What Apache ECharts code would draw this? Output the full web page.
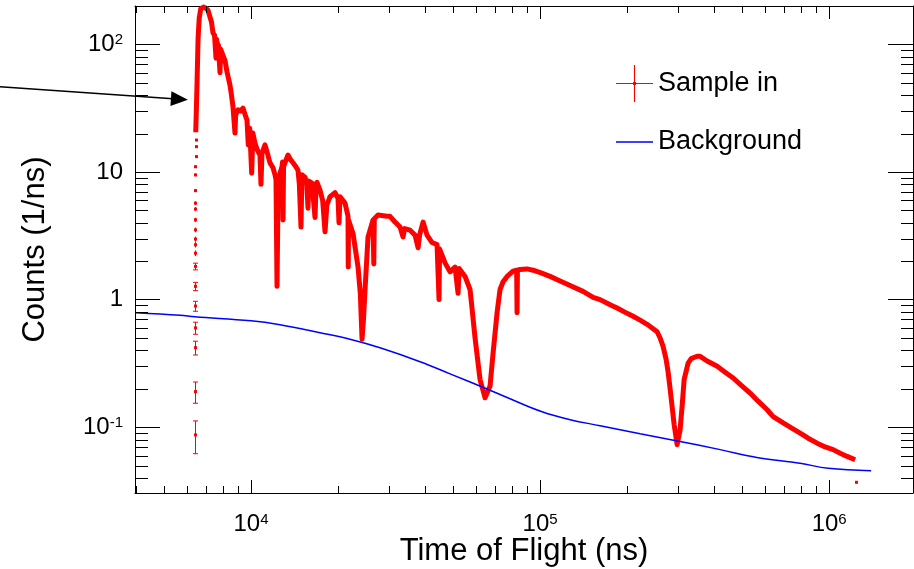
<!DOCTYPE html>
<html>
<head>
<meta charset="utf-8">
<script src="https://cdn.jsdelivr.net/npm/echarts@6/dist/echarts.min.js"></script>
<style>
html, body { margin: 0; padding: 0; background: #fff; }
#main { width: 914px; height: 569px; }
</style>
</head>
<body>
<div id="main"></div>
<script>
// time of flight (ns) / counts (1/ns)
var sampleTime = [
  6440, 6470, 6500, 6530, 6560, 6620, 6700, 6850, 6990, 7100,
  7213, 7300, 7389, 7480, 7568, 7600, 7629, 7720, 7812, 7850,
  8001, 8130, 8260, 8460, 8560, 8664, 8804, 8850, 9017, 9200,
  9383, 9550, 9687, 9787, 9900, 10056, 10150, 10323, 10500, 10742,
  10828, 10915, 11181, 11400, 11636, 11918, 12108, 12206, 12304, 12400,
  12602, 12800, 12860, 12907, 12960, 13428, 13700, 13975, 14300, 14541,
  14700, 14894, 15000, 15378, 15600, 15749, 15850, 16260, 16500, 16654,
  16800, 16920, 17330, 17700, 18034, 18300, 18768, 19530, 20000, 20162,
  20324, 21150, 21662, 21700, 21750, 22542, 23460, 23900, 24220, 24500,
  24800, 25402, 26434, 26600, 26700, 27507, 29550, 30269, 31499, 32780,
  33574, 34000, 35500, 36944, 37840, 38300, 39380, 40644, 42300, 44017,
  44722, 44900, 45082, 46914, 48822, 50806, 52036, 52500, 52870, 55020,
  57250, 58170, 59580, 62000, 64530, 67140, 68770, 71000, 72700, 74470,
  76900, 80640, 83000, 83250, 83500, 85260, 90160, 94580, 100800, 108300,
  117300, 127000, 140800, 152600, 161300, 174700, 184700, 200000, 209800, 221800,
  234600, 244100, 254000, 260200, 266400, 272900, 277300, 281700, 286200, 290900,
  297900, 305000, 310000, 315000, 325200, 333100, 349400, 357800, 378400, 409900,
  436700, 465500, 500000, 532900, 568000, 610200, 640200, 693100, 744700, 793600,
  845900, 908800, 968700, 1032000, 1092000, 1154000, 1230000
];
var sampleCounts = [
  20.5, 30, 45, 70, 110, 160, 190, 196, 192, 185,
  164, 150, 123, 118, 78, 110, 103, 98, 60, 92,
  82, 75, 61, 48, 40, 32.5, 20.2, 28, 30.7, 30,
  31.7, 28, 25.5, 16.3, 22, 9.8, 20.2, 16.9, 15, 13.6,
  8.0, 14, 16.3, 14, 11.8, 10.8, 9.5, 8.7, 1.27, 6,
  9.8, 11, 12, 4.2, 11, 13.6, 12.5, 11.8, 11, 10.3,
  8, 3.7, 9.5, 9.1, 8, 5.2, 8.5, 8.2, 8.3, 4.4,
  8.0, 8.3, 7.2, 6.0, 3.4, 5.5, 6.4, 6.9, 6.2, 4.0,
  6.4, 5.7, 4.5, 1.8, 4.2, 3.3, 1.8, 1.1, 0.49, 0.7,
  1.19, 3.1, 4.2, 1.9, 4.3, 4.6, 4.5, 4.5, 4.05, 3.7,
  3.1, 3.6, 3.5, 3.2, 2.55, 3.2, 4.05, 3.2, 2.8, 2.7,
  1.0, 2.5, 2.45, 1.94, 1.65, 1.80, 1.12, 1.75, 1.77, 1.52,
  1.2, 0.85, 0.5, 0.236, 0.17, 0.21, 0.38, 0.79, 1.2, 1.38,
  1.52, 1.67, 1.7, 0.79, 1.7, 1.72, 1.74, 1.70, 1.62, 1.52,
  1.40, 1.29, 1.16, 1.04, 1.0, 0.91, 0.86, 0.78, 0.74, 0.69,
  0.64, 0.60, 0.56, 0.50, 0.43, 0.34, 0.27, 0.2, 0.146, 0.105,
  0.073, 0.095, 0.146, 0.236, 0.318, 0.345, 0.36, 0.359, 0.33, 0.30,
  0.27, 0.243, 0.21, 0.185, 0.16, 0.137, 0.121, 0.108, 0.098, 0.090,
  0.082, 0.075, 0.070, 0.0667, 0.0625, 0.059, 0.0556
];

// separate bins on the rising edge (and the last one), with error bars
var edgeTime = [6395, 6397, 6399, 6401, 6403, 6405, 6407, 6409, 6411, 6413,
  6415, 6417, 6419, 6421, 6423, 6425, 6427, 6429, 6431, 6433, 1240000];
var edgeCounts = [0.087, 0.19, 0.42, 0.60, 0.89, 1.27, 1.82, 2.31, 2.69, 2.98,
  3.52, 4.22, 5.12, 5.70, 7.15, 9.49, 11.0, 13.2, 15.8, 17.8, 0.037];
var edgeErrors = [0.025, 0.036, 0.052, 0.065, 0.08, 0.095, 0.11, 0.12, 0.13, 0.14,
  0.15, 0.16, 0.18, 0.19, 0.21, 0.24, 0.26, 0.28, 0.31, 0.33, 0.0008];

var bgTime = [4000, 5680, 6400, 10000, 12600, 17330, 22000, 27950, 38440, 48820,
  64010, 78760, 101600, 127000, 161300, 221800, 295500, 419600, 568000, 793600,
  992000, 1397000];
var bgCounts = [0.79, 0.754, 0.733, 0.682, 0.635, 0.55, 0.489, 0.419, 0.326, 0.262,
  0.204, 0.167, 0.132, 0.1145, 0.1027, 0.0889, 0.0784, 0.0667, 0.0577, 0.0522,
  0.0476, 0.0456];

var xMinorTicks = [4000, 5000, 6000, 7000, 8000, 9000,
  20000, 30000, 40000, 50000, 60000, 70000, 80000, 90000,
  200000, 300000, 400000, 500000, 600000, 700000, 800000, 900000];
var yMinorTicks = [0.04, 0.05, 0.06, 0.07, 0.08, 0.09,
  0.2, 0.3, 0.4, 0.5, 0.6, 0.7, 0.8, 0.9,
  2, 3, 4, 5, 6, 7, 8, 9,
  20, 30, 40, 50, 60, 70, 80, 90];

// arrow pointing at the rising edge
var arrowTail = [1350, 46.5];
var arrowTip = [6050, 36.8];

var FONT = '"Liberation Sans", Arial, Helvetica, sans-serif';
var X_MIN = 3970, X_MAX = 1.95e6, Y_MIN = 0.0305, Y_MAX = 200;

var myChart = echarts.init(document.getElementById('main'));

function decadeLabel(v) {
    var e = Math.log(v) / Math.LN10;
    var r = Math.round(e);
    if (Math.abs(e - r) > 1e-6) return '';
    if (r === 0) return '{b|1}';
    if (r === 1) return '{b|10}';
    return '{b|10}{s|' + r + '}';
}

var labelRich = {
    b: { fontSize: 24, fontFamily: FONT, color: '#000' },
    s: { fontSize: 15, fontFamily: FONT, color: '#000', verticalAlign: 'top' }
};

function xAxisOf(pos, main) {
    return {
        type: 'log', logBase: 10, position: pos, min: X_MIN, max: X_MAX,
        axisLine: { show: true, onZero: false, lineStyle: { color: '#000', width: 1 } },
        axisTick: { show: true, inside: true, length: 13, lineStyle: { color: '#000' } },
        splitLine: { show: false },
        axisLabel: { show: main, margin: 19, formatter: decadeLabel, rich: labelRich },
        name: main ? 'Time of Flight (ns)' : '',
        nameLocation: 'middle', nameGap: 43, nameMoveOverlap: false,
        nameTextStyle: { fontSize: 31, fontFamily: FONT, color: '#000' }
    };
}

function yAxisOf(pos, main) {
    return {
        type: 'log', logBase: 10, position: pos, min: Y_MIN, max: Y_MAX,
        axisLine: { show: true, onZero: false, lineStyle: { color: '#000', width: 1 } },
        axisTick: { show: true, inside: true, length: 25, lineStyle: { color: '#000' } },
        splitLine: { show: false },
        axisLabel: { show: main, margin: 12, formatter: decadeLabel, rich: labelRich },
        name: main ? 'Counts (1/ns)' : '',
        nameLocation: 'middle', nameGap: 84, nameMoveOverlap: false,
        nameTextStyle: { fontSize: 31, fontFamily: FONT, color: '#000' }
    };
}

function minorTickX(params, api) {
    var cs = params.coordSys;
    var px = Math.round(api.coord([api.value(0), 1])[0]) + 0.5;
    var st = { stroke: '#000', lineWidth: 1 };
    return { type: 'group', children: [
        { type: 'line', shape: { x1: px, y1: cs.y + cs.height, x2: px, y2: cs.y + cs.height - 7 }, style: st },
        { type: 'line', shape: { x1: px, y1: cs.y, x2: px, y2: cs.y + 7 }, style: st }
    ] };
}

function minorTickY(params, api) {
    var cs = params.coordSys;
    var py = Math.round(api.coord([1e5, api.value(1)])[1]) + 0.5;
    var st = { stroke: '#000', lineWidth: 1 };
    return { type: 'group', children: [
        { type: 'line', shape: { x1: cs.x, y1: py, x2: cs.x + 13, y2: py }, style: st },
        { type: 'line', shape: { x1: cs.x + cs.width, y1: py, x2: cs.x + cs.width - 12, y2: py }, style: st }
    ] };
}

function errorBar(params, api) {
    var t = api.value(0), c = api.value(1), e = api.value(2);
    var p = api.coord([t, c]);
    var hi = api.coord([t, c + e]);
    var lo = api.coord([t, c - e]);
    var x = Math.round(p[0]) + 0.5;
    var st = { stroke: '#ff0000', lineWidth: 1 };
    var parts = [
        { type: 'line', shape: { x1: x, y1: hi[1], x2: x, y2: lo[1] }, style: st },
        { type: 'rect', shape: { x: x - 1.5, y: p[1] - 1.5, width: 3, height: 3 }, style: { fill: '#ff0000' } }
    ];
    if (lo[1] - hi[1] > 6) {
        parts.push({ type: 'line', shape: { x1: x - 2.5, y1: hi[1], x2: x + 2.5, y2: hi[1] }, style: st });
        parts.push({ type: 'line', shape: { x1: x - 2.5, y1: lo[1], x2: x + 2.5, y2: lo[1] }, style: st });
    }
    return { type: 'group', children: parts };
}

var sampleData = sampleTime.map(function (t, i) { return [t, sampleCounts[i]]; });
var edgeData = edgeTime.map(function (t, i) { return [t, edgeCounts[i], edgeErrors[i]]; });
var bgData = bgTime.map(function (t, i) { return [t, bgCounts[i]]; });

var option = {
    animation: false,
    backgroundColor: '#fff',
    grid: { left: 135, right: 1, top: 6, bottom: 76, outerBoundsMode: 'none', containLabel: false },
    xAxis: [xAxisOf('bottom', true), xAxisOf('top', false)],
    yAxis: [yAxisOf('left', true), yAxisOf('right', false)],
    legend: {
        orient: 'vertical', left: 611, top: 60,
        itemWidth: 37, itemHeight: 37, itemGap: 21.5,
        textStyle: { fontSize: 27, fontFamily: FONT, color: '#000' },
        data: [
            { name: 'Sample in', icon: 'path://M0,48.5h100v3h-100z M48.5,0h3v100h-3z M46,46h8v8h-8z' },
            { name: 'Background', icon: 'path://M0,48h100v4h-100z M0,0h0.01v0.01h-0.01z M99.99,99.99h0.01v0.01h-0.01z' }
        ]
    },
    series: [
        {
            name: 'Sample in', type: 'custom', renderItem: errorBar,
            itemStyle: { color: '#ff0000' },
            encode: { x: 0, y: 1 }, data: edgeData, z: 3
        },
        {
            name: 'Sample in', type: 'line', data: sampleData,
            showSymbol: false, symbol: 'none',
            lineStyle: { color: '#ff0000', width: 5, join: 'round' },
            itemStyle: { color: '#ff0000' }, z: 3
        },
        {
            name: 'Background', type: 'line', data: bgData,
            showSymbol: false, symbol: 'none', smooth: 0.4,
            lineStyle: { color: '#0000ff', width: 1.5 },
            itemStyle: { color: '#0000ff' }, z: 4
        },
        {
            type: 'custom', renderItem: minorTickX, silent: true,
            data: xMinorTicks.map(function (v) { return [v, 1]; }), z: 5
        },
        {
            type: 'custom', renderItem: minorTickY, silent: true,
            data: yMinorTicks.map(function (v) { return [1e5, v]; }), z: 5
        }
    ]
};

myChart.setOption(option);

// arrow annotation, placed through the axes
var a = myChart.convertToPixel({ gridIndex: 0 }, arrowTail);
var b = myChart.convertToPixel({ gridIndex: 0 }, arrowTip);
var dx = b[0] - a[0], dy = b[1] - a[1];
var len = Math.sqrt(dx * dx + dy * dy);
var ux = dx / len, uy = dy / len;
var head = 17, half = 7.5;
var bx = b[0] - ux * head, by = b[1] - uy * head;
myChart.setOption({
    graphic: [
        { type: 'line', shape: { x1: a[0], y1: a[1], x2: bx + ux * 2, y2: by + uy * 2 },
          style: { stroke: '#000', lineWidth: 1.5 }, z: 10 },
        { type: 'polygon', shape: { points: [[b[0], b[1]], [bx - uy * half, by + ux * half], [bx + uy * half, by - ux * half]] },
          style: { fill: '#000' }, z: 10 }
    ]
});
</script>
</body>
</html>
